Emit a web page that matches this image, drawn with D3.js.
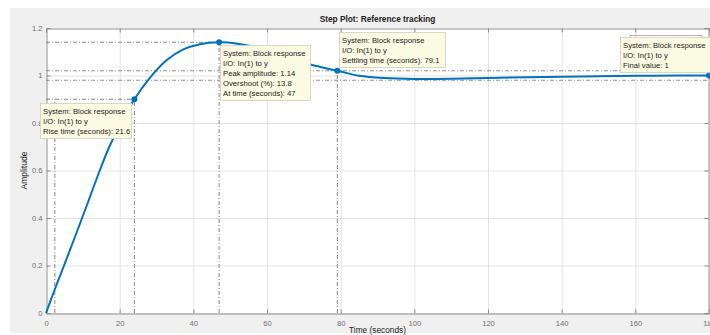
<!DOCTYPE html>
<html>
<head>
<meta charset="utf-8">
<script src="https://cdn.jsdelivr.net/npm/d3@7"></script>
<style>
  html, body { margin: 0; padding: 0; background: #fff; }
  svg { display: block; font-family: "Liberation Sans", Arial, sans-serif; }
</style>
</head>
<body>
<svg id="chart" width="710" height="335"></svg>
<script>
// Step response of the block (time in seconds, amplitude)
const timeSec = [0, 2.4, 4.9, 9.8, 14.6, 17.2, 20.4, 24, 28.2, 32.8, 37.3, 41.8, 47, 52, 56, 62, 68, 72, 79.1, 85, 92, 100, 110, 123, 140, 150, 165, 180];
const amplitude = [0, 0.1, 0.2, 0.4, 0.6, 0.7, 0.8, 0.9, 0.99, 1.065, 1.11, 1.132, 1.14, 1.134, 1.122, 1.092, 1.062, 1.045, 1.02, 0.999, 0.989, 0.985, 0.986, 0.991, 0.995, 0.997, 0.999, 1.0];

const xTicks = [0, 20, 40, 60, 80, 100, 120, 140, 160, 180];
const yTicks = [0, 0.2, 0.4, 0.6, 0.8, 1, 1.2];

// Step characteristics
const riseStart = 2.4, riseEnd = 24, riseLevel = 0.9, riseTime = 21.6;
const peakTime = 47, peakAmp = 1.14, overshoot = 13.8;
const settleTime = 79.1, settleAmp = 1.02, settleBand = [0.98, 1.02];
const finalTime = 180, finalValue = 1;

(function draw() {
  const svg = d3.select("#chart");
  const W = 710;
  const pL = 46, pR = 709, pT = 28, pB = 313;

  const x = d3.scaleLinear().domain([0, 180]).range([pL, pR]);
  const y = d3.scaleLinear().domain([0, 1.2]).range([pB, pT]);

  // figure background
  svg.append("rect").attr("x", 10).attr("y", 8).attr("width", W - 10).attr("height", 325).attr("fill", "#f0f0f0");
  svg.append("rect").attr("x", pL).attr("y", pT).attr("width", pR - pL).attr("height", pB - pT).attr("fill", "#fff");

  // grid
  const grid = svg.append("g").attr("stroke", "#e3e3e3").attr("stroke-width", 1);
  grid.selectAll("line.v").data(xTicks.slice(1, -1)).join("line").attr("class", "v")
    .attr("x1", d => x(d) + 0.5).attr("x2", d => x(d) + 0.5).attr("y1", pT).attr("y2", pB);
  grid.selectAll("line.h").data(yTicks.slice(1, -1)).join("line").attr("class", "h")
    .attr("x1", pL).attr("x2", pR).attr("y1", d => y(d) + 0.5).attr("y2", d => y(d) + 0.5);

  // axes
  const axisColor = "#8c8c8c";
  const xAxis = svg.append("g").attr("transform", `translate(0,${pB + 0.5})`)
    .call(d3.axisBottom(x).tickValues(xTicks).tickSize(-4).tickPadding(7).tickFormat(d3.format("d")));
  const yAxis = svg.append("g").attr("transform", `translate(${pL + 0.5},0)`)
    .call(d3.axisLeft(y).tickValues(yTicks).tickSize(-4).tickPadding(4).tickFormat(d => String(d)));
  const yAxisR = svg.append("g").attr("transform", `translate(${pR - 0.5},0)`)
    .call(d3.axisRight(y).tickValues(yTicks).tickSize(-4).tickFormat(""));
  const xAxisT = svg.append("g").attr("transform", `translate(0,${pT + 0.5})`)
    .call(d3.axisTop(x).tickValues(xTicks).tickSize(-4).tickFormat(""));
  [xAxis, yAxis, yAxisR, xAxisT].forEach(g => {
    g.selectAll("path, line").attr("stroke", axisColor);
    g.selectAll("text").attr("fill", "#6e6e6e").attr("font-size", "7.6px").attr("font-family", "Liberation Sans, Arial, sans-serif");
  });

  // characteristic guide lines (dash-dot)
  const guide = svg.append("g").attr("stroke", "#7a7a7a").attr("stroke-width", 0.9).attr("stroke-dasharray", "4,2,1,2").attr("fill", "none");
  const hLine = (v, t0, t1, col) => guide.append("line").attr("x1", x(t0)).attr("x2", x(t1)).attr("y1", y(v)).attr("y2", y(v)).attr("stroke", col || null);
  const vLine = (t, v0, v1) => guide.append("line").attr("x1", x(t)).attr("x2", x(t)).attr("y1", y(v0)).attr("y2", y(v1));
  hLine(riseLevel, 0, riseEnd);
  vLine(riseStart, 0, riseLevel);
  vLine(riseEnd, 0, riseLevel);
  hLine(peakAmp, 0, peakTime);
  vLine(peakTime, 0, peakAmp);
  settleBand.forEach(v => hLine(v, 0, 180, "#8a7f7f"));
  vLine(settleTime, 0, settleAmp);

  // response curve
  const pts = timeSec.map((t, i) => [t, amplitude[i]]);
  svg.append("path").datum(pts)
    .attr("fill", "none").attr("stroke", "#0072BD").attr("stroke-width", 2)
    .attr("d", d3.line().x(d => x(d[0])).y(d => y(d[1])).curve(d3.curveCatmullRom.alpha(0.5)));

  // markers
  const marks = [[riseEnd, riseLevel], [peakTime, peakAmp], [settleTime, settleAmp], [finalTime, finalValue]];
  svg.selectAll("circle.m").data(marks).join("circle").attr("class", "m")
    .attr("cx", d => x(d[0])).attr("cy", d => y(d[1])).attr("r", 3).attr("fill", "#0072BD");

  // data tips
  function tip(bx, by, w, lines) {
    const g = svg.append("g");
    const h = lines.length * 10 + 5;
    g.append("rect").attr("x", bx + 0.5).attr("y", by + 0.5).attr("width", w).attr("height", h)
      .attr("fill", "#fbfbe3").attr("stroke", "#cfcfbf").attr("stroke-width", 0.8);
    lines.forEach((s, i) => g.append("text").attr("x", bx + 3).attr("y", by + 11 + i * 10)
      .attr("font-size", "7.7px").attr("fill", "#222").text(s));
  }
  tip(40, 103, 91, ["System: Block response", "I/O: In(1) to y", `Rise time (seconds): ${riseTime}`]);
  tip(220, 45, 90, ["System: Block response", "I/O: In(1) to y", `Peak amplitude: ${peakAmp}`, `Overshoot (%): ${overshoot}`, `At time (seconds): ${peakTime}`]);
  tip(339, 32, 106, ["System: Block response", "I/O: In(1) to y", `Settling time (seconds): ${settleTime}`]);

  // bracket behind the final-value tip
  svg.append("path").attr("d", "M630,39V35.5H702V39").attr("fill", "none").attr("stroke", "#9a9a9a").attr("stroke-width", 0.8);
  tip(620, 37, 92, ["System: Block response", "I/O: In(1) to y", `Final value: ${finalValue}`]);

  // title and labels
  svg.append("text").attr("x", (pL + pR) / 2).attr("y", 22).attr("text-anchor", "middle")
    .attr("font-size", "8.3px").attr("font-weight", "bold").attr("fill", "#222").text("Step Plot: Reference tracking");
  svg.append("text").attr("x", (pL + pR) / 2).attr("y", 333).attr("text-anchor", "middle")
    .attr("font-size", "8.3px").attr("fill", "#222").text("Time (seconds)");
  svg.append("text").attr("transform", `translate(27,${(pT + pB) / 2}) rotate(-90)`).attr("text-anchor", "middle")
    .attr("font-size", "8.5px").attr("fill", "#222").text("Amplitude");
})();
</script>
</body>
</html>
